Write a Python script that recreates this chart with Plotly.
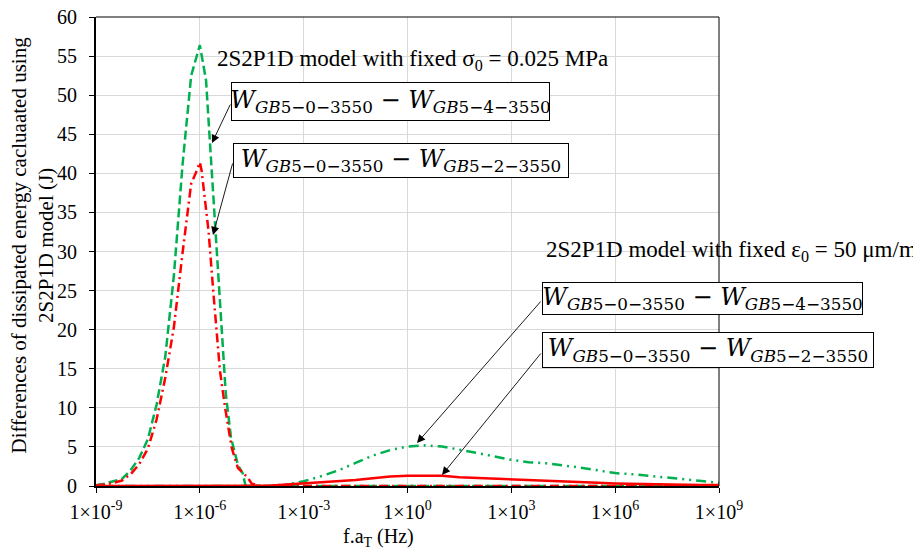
import plotly.graph_objects as go

# ---------------- data ----------------
# x values are log10(f.aT) exponents; frequency = 10**exp
sig_gb4_exp = [-9, -8.75, -8.5, -8.25, -8, -7.75, -7.5, -7.25, -7, -6.75, -6.5, -6.25,
               -6, -5.82, -5.75, -5.6, -5.5, -5.37, -5.25, -5.1, -5, -4.9, -4.76, -4.68,
               -4, -3, -1, 1, 3, 5, 7, 9]
sig_gb4_val = [0.1, 0.3, 0.6, 0.9, 2.0, 3.6, 6.0, 10.4, 16.5, 26.9, 41.1, 52.5,
               56.4, 51.9, 46.9, 36.6, 28.9, 19.7, 11.8, 6.2, 4.3, 2.7, 1.6, 0.05,
               0, 0, 0, 0, 0, 0, 0, 0]

sig_gb2_exp = [-9, -8.75, -8.5, -8.25, -8, -7.75, -7.5, -7.25, -7, -6.75, -6.5, -6.25,
               -6.12, -6, -5.95, -5.85, -5.75, -5.61, -5.5, -5.42, -5.27, -5.08, -4.9,
               -4.64, -4.5, -4.25, -3, -1, 1, 3, 5, 7, 9]
sig_gb2_val = [0.1, 0.2, 0.4, 0.7, 1.5, 2.8, 4.8, 8.5, 13.8, 20.3, 29.8, 38.7,
               40.0, 41.4, 40.4, 36.6, 32.7, 24.8, 19.3, 14.8, 10.0, 4.9, 2.3,
               1.2, 0.3, 0, 0, 0, 0, 0, 0, 0, 0]

eps_gb4_exp = [-9, -7, -5, -4, -3.5, -3, -2.5, -2, -1.5, -1, -0.5, 0, 0.5, 1, 1.5, 2, 2.5,
               3, 3.5, 4, 4.5, 5, 5.5, 6, 6.5, 7, 7.5, 8, 8.5, 9]
eps_gb4_val = [0, 0, 0, 0, 0.2, 0.6, 1.25, 2.0, 2.95, 3.9, 4.6, 5.05, 5.2, 5.05, 4.65, 4.25,
               3.8, 3.35, 3.05, 2.9, 2.65, 2.35, 2.0, 1.65, 1.5, 1.3, 1.05, 0.85, 0.65, 0.4]

eps_gb2_exp = [-9, -7, -5, -4, -3.5, -3, -2.5, -2, -1.5, -1, -0.5, 0, 0.5, 1, 1.5, 2, 2.5,
               3, 3.5, 4, 4.5, 5, 5.5, 6, 6.5, 7, 7.5, 8, 8.5, 9]
eps_gb2_val = [0, 0, 0, 0.02, 0.2, 0.32, 0.45, 0.6, 0.77, 1.0, 1.2, 1.3, 1.32, 1.3, 1.12, 1.02,
               0.97, 0.86, 0.8, 0.68, 0.57, 0.48, 0.4, 0.32, 0.26, 0.22, 0.18, 0.15, 0.13, 0.12]

tick_vals = [1e-9, 1e-6, 1e-3, 1e0, 1e3, 1e6, 1e9]
tick_text = ["1×10<sup>-9</sup>", "1×10<sup>-6</sup>", "1×10<sup>-3</sup>", "1×10<sup>0</sup>",
             "1×10<sup>3</sup>", "1×10<sup>6</sup>", "1×10<sup>9</sup>"]

label_sig = "2S2P1D model with fixed σ<sub>0</sub> = 0.025 MPa"
label_eps = "2S2P1D model with fixed ε<sub>0</sub> = 50 μm/m"
label_gb4 = "<i>W</i><sub><i>GB</i>5−0−3550</sub> − <i>W</i><sub><i>GB</i>5−4−3550</sub>"
label_gb2 = "<i>W</i><sub><i>GB</i>5−0−3550</sub> − <i>W</i><sub><i>GB</i>5−2−3550</sub>"

# ---------------- figure ----------------
GREEN = "#00B050"
RED = "#FF0000"
SERIF = "Liberation Serif"
MATH = "DejaVu Serif"

W, H = 913, 555
L, R, T, B = 96, 194, 17, 69
PW, PH = W - L - R, H - T - B


def px(xp):
    return (xp - L) / PW


def py(yp):
    return (H - B - yp) / PH


def tofreq(exps):
    return [10 ** e for e in exps]


fig = go.Figure()
fig.add_trace(go.Scatter(x=tofreq(sig_gb4_exp), y=sig_gb4_val, mode="lines",
                         line=dict(color=GREEN, width=2.5, dash="9px,4px"), showlegend=False))
fig.add_trace(go.Scatter(x=tofreq(sig_gb2_exp), y=sig_gb2_val, mode="lines",
                         line=dict(color=RED, width=2.5, dash="9px,4px,2px,4px"), showlegend=False))
fig.add_trace(go.Scatter(x=tofreq(eps_gb4_exp), y=eps_gb4_val, mode="lines",
                         line=dict(color=GREEN, width=2.5, dash="10px,5px,2px,5px,2px,5px"),
                         showlegend=False))
fig.add_trace(go.Scatter(x=tofreq(eps_gb2_exp), y=eps_gb2_val, mode="lines",
                         line=dict(color=RED, width=2.5), showlegend=False))

fig.update_xaxes(type="log", range=[-9, 9], tickvals=tick_vals, ticktext=tick_text,
                 showgrid=True, gridcolor="#D9D9D9", gridwidth=1.2,
                 showline=True, linecolor="black", linewidth=1.5,
                 ticks="outside", ticklen=5, tickcolor="black", tickwidth=1.2,
                 ticklabelstandoff=2,
                 tickfont=dict(family=SERIF, size=20, color="black"),
                 zeroline=False, layer="below traces", automargin=False)
fig.update_yaxes(range=[0, 60], tickvals=list(range(0, 61, 5)),
                 showgrid=True, gridcolor="#D9D9D9", gridwidth=1.2,
                 showline=True, linecolor="black", linewidth=2,
                 ticks="outside", ticklen=5, tickcolor="black", tickwidth=1.2,
                 ticklabelstandoff=8,
                 tickfont=dict(family=SERIF, size=20, color="black"),
                 zeroline=False, layer="below traces", automargin=False)

shapes = [
    dict(type="line", xref="paper", yref="paper", x0=0, x1=1, y0=1, y1=1,
         line=dict(color="black", width=1), layer="above"),
    dict(type="line", xref="paper", yref="paper", x0=1, x1=1, y0=0, y1=1,
         line=dict(color="black", width=1), layer="above"),
]

ann = []
# axis titles
ann.append(dict(text="Differences of dissipated energy cacluaated using<br>2S2P1D model (J)",
                xref="paper", yref="paper", x=px(31.5), y=py(245), xanchor="center", yanchor="middle",
                textangle=-90, showarrow=False, font=dict(family=SERIF, size=21, color="black")))
ann.append(dict(text="f.a<sub>T</sub> (Hz)", xref="paper", yref="paper", x=px(378), y=py(537),
                xanchor="center", yanchor="middle", showarrow=False,
                font=dict(family=SERIF, size=20, color="black")))
# free texts
ann.append(dict(text=label_sig, xref="paper", yref="paper", x=px(215), y=py(60),
                xanchor="left", yanchor="middle", showarrow=False,
                font=dict(family=SERIF, size=23, color="black")))
ann.append(dict(text=label_eps, xref="paper", yref="paper", x=px(544), y=py(251),
                xanchor="left", yanchor="middle", showarrow=False,
                font=dict(family=SERIF, size=23, color="black")))
# boxes
boxes = [
    (label_gb4, 390.5, 101.5, 317, 37),
    (label_gb2, 401, 160.5, 334, 33),
    (label_gb4, 702.5, 298.5, 319, 31),
    (label_gb2, 708, 350, 330, 34),
]
for txt, cx, cy, bw, bh in boxes:
    ann.append(dict(text=txt, xref="paper", yref="paper", x=px(cx), y=py(cy),
                    xanchor="center", yanchor="middle", showarrow=False,
                    width=bw, height=bh, align="center", valign="middle",
                    bgcolor="white", bordercolor="black", borderwidth=1, borderpad=0,
                    font=dict(family=MATH, size=24, color="black")))
# arrows (tail -> head) in pixel positions
arrows = [
    ((231, 103), (212, 143)),
    ((233, 162), (213, 235)),
    ((542, 300), (417, 443)),
    ((542, 352), (442, 475)),
]
for (tx, ty), (hx, hy) in arrows:
    ann.append(dict(text="", xref="paper", yref="paper", x=px(hx), y=py(hy),
                    ax=tx - hx, ay=ty - hy, showarrow=True, arrowhead=2, arrowsize=1.8,
                    arrowwidth=0.9, arrowcolor="black"))

fig.update_layout(width=W, height=H, margin=dict(l=L, r=R, t=T, b=B, autoexpand=False),
                  paper_bgcolor="white", plot_bgcolor="white",
                  annotations=ann, shapes=shapes, showlegend=False)

fig.write_html("out.html", config={"displayModeBar": False},
               post_script="document.body.style.margin='0px';")
